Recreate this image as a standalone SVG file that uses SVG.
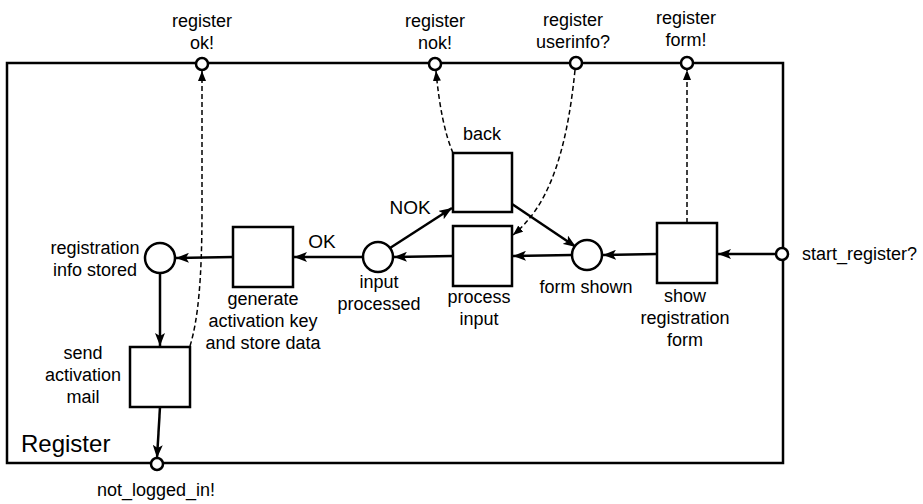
<svg xmlns="http://www.w3.org/2000/svg" width="923" height="504" viewBox="0 0 923 504">
<style>
text{font-family:"Liberation Sans",Arial,sans-serif;font-size:18px;fill:#000}
.c{text-anchor:middle}
.big{font-size:24px}
.lbl{font-size:19px}
.box{fill:#fff;stroke:#000;stroke-width:2.5}
.port{fill:#fff;stroke:#000;stroke-width:2.5}
.frame{fill:none;stroke:#000;stroke-width:2.5}
.arc{fill:none;stroke:#000;stroke-width:2.5;marker-end:url(#ah)}
.dash{fill:none;stroke:#000;stroke-width:1.5;stroke-dasharray:5,3;marker-end:url(#dh)}
</style>
<defs>
<marker id="ah" viewBox="0 0 13 10" refX="13" refY="5" markerWidth="13" markerHeight="10" markerUnits="userSpaceOnUse" orient="auto"><path d="M0,0 L13,5 L0,10 L3,5 z" fill="#000"/></marker>
<marker id="dh" viewBox="0 0 10 8" refX="10" refY="4" markerWidth="10" markerHeight="8" markerUnits="userSpaceOnUse" orient="auto"><path d="M0,0 L10,4 L0,8 z" fill="#000"/></marker>
</defs>
<rect width="923" height="504" fill="#fff"/>
<g id="frame">
<rect class="frame" x="7" y="63" width="776" height="400"/>
<text class="big" x="21" y="452">Register</text>
</g>
<g id="connectors">
<line class="arc" x1="776" y1="254" x2="718" y2="254"/>
<line class="arc" x1="657" y1="254" x2="603" y2="255"/>
<line class="arc" x1="572" y1="255" x2="513" y2="256"/>
<line class="arc" x1="453" y1="256" x2="394" y2="257"/>
<line class="arc" x1="390" y1="248" x2="452" y2="208"/>
<line class="arc" x1="512" y1="204" x2="576" y2="247"/>
<line class="arc" x1="363" y1="257" x2="294" y2="257"/>
<line class="arc" x1="233" y1="257" x2="176" y2="258"/>
<line class="arc" x1="160" y1="273" x2="160" y2="346"/>
<line class="arc" x1="160" y1="407" x2="157" y2="458"/>
<path class="dash" d="M190,346 C198,320 202,280 202,210 L202,71"/>
<path class="dash" d="M453,153 Q441,125 436,71"/>
<path class="dash" d="M575,70 C566,160 546,208 513,235"/>
<line class="dash" x1="687" y1="223" x2="687" y2="70"/>
</g>
<g id="port-register-ok">
<circle class="port" cx="202" cy="64" r="6"/>
<text class="c" x="202" y="27">register</text>
<text class="c" x="202" y="49">ok!</text>
</g>
<g id="port-register-nok">
<circle class="port" cx="435" cy="64" r="6"/>
<text class="c" x="435" y="27">register</text>
<text class="c" x="435" y="49">nok!</text>
</g>
<g id="port-register-userinfo">
<circle class="port" cx="576" cy="63" r="6"/>
<text class="c" x="573" y="26">register</text>
<text class="c" x="573" y="48">userinfo?</text>
</g>
<g id="port-register-form">
<circle class="port" cx="687" cy="63" r="6"/>
<text class="c" x="686" y="24">register</text>
<text class="c" x="686" y="46">form!</text>
</g>
<g id="port-start-register">
<circle class="port" cx="782" cy="254" r="6"/>
<text x="802" y="260">start_register?</text>
</g>
<g id="port-not-logged-in">
<circle class="port" cx="157" cy="464" r="6"/>
<text class="c" x="156" y="496">not_logged_in!</text>
</g>
<g id="t-show-registration-form">
<rect class="box" x="657" y="223" width="60" height="60"/>
<text class="c" x="685" y="302">show</text>
<text class="c" x="685" y="324">registration</text>
<text class="c" x="685" y="346">form</text>
</g>
<g id="p-form-shown">
<circle class="box" cx="587" cy="255" r="15"/>
<text class="c" x="586" y="293">form shown</text>
</g>
<g id="t-process-input">
<rect class="box" x="453" y="226" width="59" height="60"/>
<text class="c" x="479" y="303">process</text>
<text class="c" x="479" y="325">input</text>
</g>
<g id="t-back">
<rect class="box" x="453" y="153" width="59" height="59"/>
<text class="c" x="482" y="140">back</text>
</g>
<g id="p-input-processed">
<circle class="box" cx="378" cy="257" r="15"/>
<text class="c" x="379" y="288">input</text>
<text class="c" x="379" y="310">processed</text>
<text class="c lbl" x="410" y="214">NOK</text>
<text class="c lbl" x="322" y="248">OK</text>
</g>
<g id="t-generate-activation-key">
<rect class="box" x="233" y="227" width="60" height="60"/>
<text class="c" x="263" y="305">generate</text>
<text class="c" x="263" y="327">activation key</text>
<text class="c" x="263" y="349">and store data</text>
</g>
<g id="p-registration-info-stored">
<circle class="box" cx="160" cy="258" r="15"/>
<text class="c" x="95" y="254">registration</text>
<text class="c" x="95" y="276">info stored</text>
</g>
<g id="t-send-activation-mail">
<rect class="box" x="130" y="347" width="60" height="60"/>
<text class="c" x="83" y="359">send</text>
<text class="c" x="83" y="381">activation</text>
<text class="c" x="83" y="403">mail</text>
</g>
</svg>
